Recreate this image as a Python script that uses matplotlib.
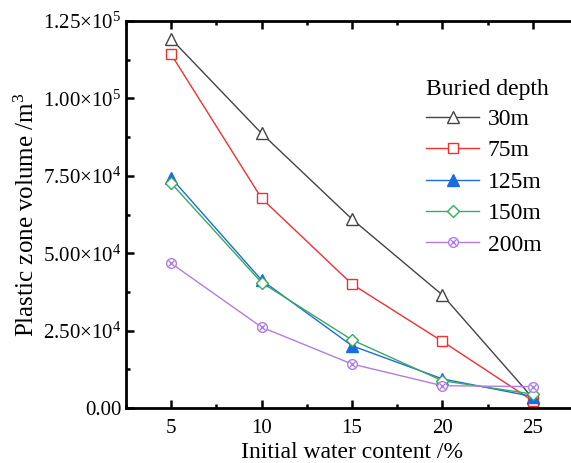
import matplotlib
matplotlib.use("Agg")
import matplotlib.pyplot as plt
from matplotlib.ticker import FixedLocator, MultipleLocator, FuncFormatter
from matplotlib.legend_handler import HandlerTuple

plt.rcParams["font.family"] = "Liberation Serif"
plt.rcParams["mathtext.fontset"] = "custom"
plt.rcParams["mathtext.rm"] = "Liberation Serif"
plt.rcParams["mathtext.it"] = "Liberation Serif:italic"

water = [5, 10, 15, 20, 25]
depths = ["30m", "75m", "125m", "150m", "200m"]
vol_30 = [119200, 88700, 61000, 36500, 3200]
vol_75 = [114200, 67700, 40000, 21500, 2300]
vol_125 = [74300, 41300, 20100, 9400, 3700]
vol_150 = [72600, 40500, 22000, 8800, 4500]
vol_200 = [46700, 26100, 14200, 7200, 6900]

ytick_vals = [0, 25000, 50000, 75000, 100000, 125000]
ytick_text = ["0.00", r"2.50$\times$10$^4$", r"5.00$\times$10$^4$",
              r"7.50$\times$10$^4$", r"1.00$\times$10$^5$", r"1.25$\times$10$^5$"]

fig = plt.figure(figsize=(5.71, 4.63), dpi=100)
ax = fig.add_axes([0.2207, 0.1188, 0.7916, 0.8358])

ms = 8
h30, = ax.plot(water, vol_30, color="#444444", lw=1, marker="^", ms=ms, mfc="white", mec="#444444")
h75, = ax.plot(water, vol_75, color="#f23030", lw=1, marker="s", ms=ms - 1, mfc="white", mec="#f23030")
h125, = ax.plot(water, vol_125, color="#1a6de0", lw=1, marker="^", ms=ms, mfc="#1a6de0", mec="#1a6de0")
h150, = ax.plot(water, vol_150, color="#3aaa5c", lw=1, marker="D", ms=ms - 1.5, mfc="white", mec="#3aaa5c")
h200, = ax.plot(water, vol_200, color="#b07ee0", lw=1, marker="o", ms=ms - 1, mfc="white", mec="#b07ee0")
h200x, = ax.plot(water, vol_200, color="#b07ee0", lw=0, marker="x", ms=ms - 3.5, mew=1)

ax.set_xlim(2.5, 27.5)
ax.set_ylim(0, 125000)
ax.xaxis.set_major_locator(FixedLocator(water))
ax.xaxis.set_minor_locator(MultipleLocator(2.5))
ax.yaxis.set_major_locator(FixedLocator(ytick_vals))
ax.yaxis.set_minor_locator(MultipleLocator(12500))
ax.yaxis.set_major_formatter(FuncFormatter(lambda v, p: ytick_text[ytick_vals.index(int(round(v)))] if int(round(v)) in ytick_vals else ""))

ax.tick_params(which="both", direction="in", top=True, right=False, labelsize=15, width=1.8)
ax.tick_params(which="major", length=6)
ax.tick_params(which="minor", length=3)
ax.tick_params(axis="x", pad=8)
for s in ["left", "bottom", "top"]:
    ax.spines[s].set_linewidth(2)
ax.spines["right"].set_visible(False)

ax.set_xlabel("Initial water content /%", fontsize=17, labelpad=3)
ax.set_ylabel("Plastic zone volume /m$^3$", fontsize=18, labelpad=3)

leg = ax.legend([h30, h75, h125, h150, (h200, h200x)], depths, title="Buried depth",
                handler_map={tuple: HandlerTuple(ndivide=1)},
                frameon=False, fontsize=17, title_fontsize=17, loc="upper left",
                bbox_to_anchor=(0.664, 0.85), handlelength=2.25, handletextpad=0.35,
                labelspacing=0.42, borderaxespad=0, borderpad=0)
leg._legend_box.align = "left"
leg._legend_box.sep = 6

fig.savefig("out.png", dpi=100)
